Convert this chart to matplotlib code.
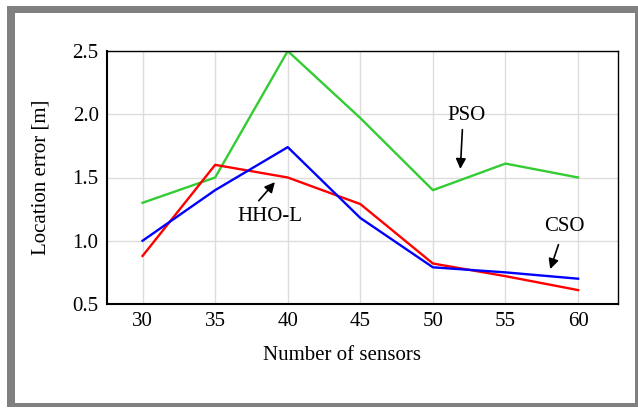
import matplotlib
matplotlib.use('Agg')
import matplotlib.pyplot as plt
from matplotlib.patches import Rectangle

plt.rcParams['font.family'] = ['Liberation Serif', 'DejaVu Serif']

sensors = [30, 35, 40, 45, 50, 55, 60]
pso = [1.30, 1.50, 2.50, 1.97, 1.40, 1.61, 1.50]
hho_l = [0.88, 1.60, 1.50, 1.29, 0.82, 0.72, 0.61]
cso = [1.00, 1.40, 1.74, 1.18, 0.79, 0.75, 0.70]

W, H = 638, 408
fig = plt.figure(figsize=(W / 100, H / 100), dpi=100)
fig.patch.set_facecolor('white')

# gray frame around the whole picture
fig.patches.append(Rectangle((7 / W, 1 / H), (W - 7) / W, 401 / H,
                             transform=fig.transFigure, facecolor='#808080',
                             edgecolor='none', zorder=-10))
fig.patches.append(Rectangle((15 / W, 5 / H), 620 / W, 390 / H,
                             transform=fig.transFigure, facecolor='white',
                             edgecolor='none', zorder=-9))

ax = fig.add_axes([107 / W, 1 - 304 / H, 511 / W, 253 / H])
ax.plot(sensors, pso, color='#33cc33', lw=1.7)
ax.plot(sensors, hho_l, color='#ff0000', lw=1.7)
ax.plot(sensors, cso, color='#0000ff', lw=1.7)

ax.set_xlim(27.55, 62.75)
ax.set_ylim(0.5, 2.5)
ax.set_xticks(sensors)
ax.set_yticks([0.5, 1.0, 1.5, 2.0, 2.5])
ax.set_yticklabels(['0.5', '1.0', '1.5', '2.0', '2.5'])
ax.grid(True, color='#dddddd', lw=1)
ax.set_axisbelow(True)
ax.tick_params(length=0, labelsize=15, pad=6)
for s in ['left', 'bottom']:
    ax.spines[s].set_linewidth(1.5)
for s in ['top', 'right']:
    ax.spines[s].set_linewidth(1.0)

ax.set_xlabel('Number of sensors', fontsize=15)
ax.set_ylabel('Location error [m]', fontsize=15)
ax.xaxis.set_label_coords(0.46, -0.165)
ax.yaxis.set_label_coords(-0.11, 0.5)

arrow = dict(arrowstyle='-|>', color='black', lw=1.2, mutation_scale=15)
ax.annotate('', xy=(51.88, 1.546), xytext=(52.04, 1.90), arrowprops=arrow)
ax.text(52.28, 1.99, 'PSO', fontsize=15, ha='center', va='center')
ax.annotate('', xy=(39.24, 1.48), xytext=(37.88, 1.30), arrowprops=arrow)
ax.text(38.78, 1.19, 'HHO-L', fontsize=15, ha='center', va='center')
ax.annotate('', xy=(58.02, 0.755), xytext=(58.71, 0.99), arrowprops=arrow)
ax.text(59.05, 1.11, 'CSO', fontsize=15, ha='center', va='center')

fig.savefig('out.png', dpi=100)
